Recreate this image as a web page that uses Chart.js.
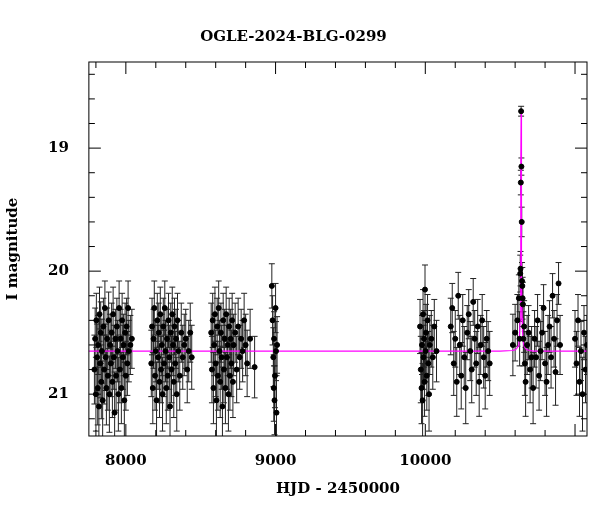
<!DOCTYPE html>
<html>
<head>
<meta charset="utf-8">
<script src="https://cdn.jsdelivr.net/npm/chart.js@4"></script>
<style>
  body { margin: 0; background: #fff; }
</style>
</head>
<body>
<canvas id="lc" width="600" height="512"></canvas>
<script>
// photometry: HJD-2450000, I mag, error
const obs_t = [
  7790,7795,7800,7803,7808,7812,7815,7820,7824,7828,7832,7836,7840,7845,7850,7855,7860,7865,7870,7875,7880,7885,7890,7895,7900,7905,7910,7915,7920,7925,7930,7935,7940,7945,7950,7955,7960,7965,7970,7975,7980,7985,7990,7995,8000,8005,8010,8015,8020,8030,8040,
  8170,8175,8180,8185,8190,8195,8200,8205,8210,8215,8220,8225,8230,8235,8240,8245,8250,8255,8260,8265,8270,8275,8280,8285,8290,8295,8300,8305,8310,8315,8320,8325,8330,8335,8340,8345,8350,8360,8370,8380,8390,8400,8410,8420,8430,8440,
  8570,8575,8580,8585,8590,8595,8600,8605,8610,8615,8620,8625,8630,8635,8640,8645,8650,8655,8660,8665,8670,8675,8680,8685,8690,8695,8700,8705,8710,8715,8720,8730,8740,8750,8760,8770,8780,8790,8800,8810,8830,8860,
  8975,8980,8985,8988,8990,8993,8996,9000,9003,9006,9010,
  9965,9970,9975,9978,9982,9985,9988,9992,9995,9998,10002,10005,10010,10015,10020,10025,10030,10040,10050,10060,10075,
  10170,10180,10190,10200,10210,10220,10230,10240,10250,10260,10270,10280,10290,10300,10310,10320,10330,10340,10350,10360,10370,10380,10390,10400,10410,10420,10430,
  10585,10600,10615,10625,10630,10634,10636,10638,10640,10642,10644,10646,10648,10650,10652,10655,10660,10665,10670,10680,10690,10700,10710,10720,10730,10740,10750,10760,10770,10780,10790,10800,10810,10820,10830,10840,10850,10860,10870,10880,10890,10900,
  11000,11010,11020,11030,11040,11050,11060,11070,11080
];
const obs_mag = [
  20.80,20.55,21.00,20.40,20.70,20.95,20.60,21.10,20.35,20.75,20.50,20.90,20.65,21.05,20.45,20.80,20.30,20.70,20.95,20.55,20.85,20.40,21.00,20.60,20.75,20.50,20.90,20.35,20.70,21.15,20.55,20.85,20.45,20.65,21.00,20.30,20.80,20.55,20.95,20.40,20.70,20.60,21.05,20.50,20.85,20.45,20.75,20.30,20.65,20.60,20.55,
  20.75,20.45,20.95,20.55,20.30,20.85,20.65,21.05,20.40,20.70,20.50,20.90,20.35,20.80,20.60,21.00,20.45,20.75,20.30,20.65,20.95,20.55,20.85,20.40,20.70,21.10,20.50,20.80,20.35,20.60,20.90,20.45,20.75,20.55,21.00,20.40,20.65,20.85,20.50,20.70,20.60,20.55,20.80,20.65,20.50,20.70,
  20.50,20.80,20.40,20.95,20.60,20.35,20.75,21.05,20.45,20.85,20.30,20.65,20.90,20.50,20.70,21.10,20.40,20.80,20.55,20.95,20.35,20.70,20.60,21.00,20.45,20.85,20.55,20.75,20.40,20.90,20.60,20.50,20.80,20.45,20.70,20.55,20.65,20.40,20.60,20.75,20.55,20.78,
  20.12,20.40,20.70,20.95,20.55,21.05,20.85,20.30,20.65,21.15,20.60,
  20.45,20.80,20.95,20.60,21.05,20.35,20.70,20.55,20.90,20.15,20.65,20.50,20.85,20.40,20.75,21.00,20.60,20.55,20.70,20.45,20.65,
  20.45,20.30,20.75,20.55,20.90,20.20,20.60,20.85,20.40,20.70,20.95,20.50,20.35,20.65,20.80,20.25,20.55,20.75,20.45,20.90,20.60,20.40,20.70,20.85,20.55,20.65,20.75,
  20.60,20.50,20.40,20.22,20.55,20.02,19.98,19.28,18.70,19.15,19.60,20.08,20.12,20.22,20.27,20.55,20.45,20.75,20.90,20.60,20.50,20.80,20.70,20.95,20.55,20.70,20.40,20.85,20.65,20.50,20.30,20.75,20.90,20.60,20.45,20.70,20.20,20.55,20.82,20.40,20.10,20.60,
  20.55,20.75,20.40,20.90,20.65,21.00,20.50,20.80,20.60
];
const obs_err = [
  0.28,0.25,0.30,0.22,0.27,0.30,0.24,0.32,0.22,0.28,0.25,0.30,0.26,0.32,0.23,0.28,0.22,0.27,0.30,0.25,0.28,0.23,0.31,0.25,0.27,0.24,0.29,0.22,0.26,0.33,0.24,0.28,0.23,0.25,0.30,0.22,0.27,0.24,0.29,0.22,0.26,0.25,0.31,0.24,0.28,0.23,0.26,0.22,0.25,0.24,0.24,
  0.27,0.23,0.29,0.24,0.22,0.28,0.25,0.31,0.22,0.26,0.24,0.29,0.22,0.27,0.25,0.30,0.23,0.27,0.22,0.25,0.29,0.24,0.28,0.22,0.26,0.32,0.24,0.27,0.22,0.25,0.29,0.23,0.26,0.24,0.30,0.22,0.25,0.28,0.24,0.26,0.25,0.24,0.27,0.25,0.24,0.26,
  0.24,0.27,0.22,0.29,0.25,0.22,0.27,0.31,0.23,0.28,0.22,0.25,0.29,0.24,0.26,0.32,0.22,0.27,0.24,0.29,0.22,0.26,0.25,0.30,0.23,0.28,0.24,0.27,0.22,0.29,0.25,0.24,0.27,0.23,0.26,0.24,0.25,0.22,0.25,0.27,0.24,0.25,
  0.18,0.20,0.24,0.27,0.22,0.28,0.26,0.20,0.24,0.30,0.23,
  0.22,0.27,0.29,0.24,0.30,0.20,0.26,0.23,0.28,0.20,0.25,0.23,0.28,0.21,0.26,0.30,0.24,0.23,0.26,0.22,0.25,
  0.23,0.20,0.26,0.23,0.28,0.19,0.24,0.27,0.21,0.25,0.29,0.22,0.20,0.24,0.27,0.19,0.23,0.26,0.22,0.28,0.24,0.21,0.25,0.27,0.23,0.24,0.26,
  0.25,0.23,0.21,0.19,0.22,0.15,0.14,0.10,0.04,0.07,0.12,0.15,0.15,0.17,0.18,0.22,0.21,0.26,0.28,0.24,0.22,0.27,0.25,0.29,0.23,0.25,0.21,0.28,0.24,0.22,0.19,0.26,0.28,0.24,0.21,0.25,0.18,0.23,0.27,0.21,0.17,0.24,
  0.23,0.26,0.21,0.28,0.24,0.30,0.22,0.27,0.24
];
// PSPL model curve
const model_t = [7750,10500,10580,10600,10610,10620,10625,10630,10633,10636,10638,10639,10640,10641,10642,10644,10647,10650,10655,10660,10670,10680,10700,10720,11100];
const model_mag = [20.65,20.65,20.645,20.64,20.63,20.61,20.58,20.50,20.40,20.05,19.55,19.15,18.72,19.15,19.55,20.05,20.38,20.50,20.58,20.61,20.63,20.64,20.645,20.65,20.65];

const obs = obs_t.map((t, i) => ({x: t, y: obs_mag[i], e: obs_err[i]}));
const model = model_t.map((t, i) => ({x: t, y: model_mag[i]}));

const errorBars = {
  id: 'errorBars',
  beforeDatasetsDraw(chart) {
    const ctx = chart.ctx, xs = chart.scales.x, ys = chart.scales.y;
    const area = chart.chartArea;
    ctx.save();
    ctx.beginPath();
    ctx.rect(area.left, area.top, area.right - area.left, area.bottom - area.top);
    ctx.clip();
    ctx.strokeStyle = '#222';
    ctx.lineWidth = 1;
    obs.forEach(p => {
      const x = xs.getPixelForValue(p.x);
      const y1 = ys.getPixelForValue(p.y - p.e), y2 = ys.getPixelForValue(p.y + p.e);
      ctx.beginPath();
      ctx.moveTo(x, y1); ctx.lineTo(x, y2);
      ctx.moveTo(x - 3, y1); ctx.lineTo(x + 3, y1);
      ctx.moveTo(x - 3, y2); ctx.lineTo(x + 3, y2);
      ctx.stroke();
    });
    ctx.restore();
  }
};

// inward ticks on all four sides
const frameTicks = {
  id: 'frameTicks',
  afterDraw(chart) {
    const ctx = chart.ctx, xs = chart.scales.x, ys = chart.scales.y, a = chart.chartArea;
    ctx.save();
    ctx.strokeStyle = '#000';
    ctx.lineWidth = 1;
    ctx.strokeRect(a.left, a.top, a.right - a.left, a.bottom - a.top);
    ctx.beginPath();
    for (let v = 7800; v <= 11000; v += 200) {
      const x = xs.getPixelForValue(v), L = v % 1000 === 0 ? 12 : 6;
      ctx.moveTo(x, a.bottom); ctx.lineTo(x, a.bottom - L);
      ctx.moveTo(x, a.top); ctx.lineTo(x, a.top + L);
    }
    for (let v = 18.4; v <= 21.3; v += 0.2) {
      const r = Math.round(v * 10) / 10;
      const y = ys.getPixelForValue(r), L = Number.isInteger(r) ? 12 : 6;
      ctx.moveTo(a.left, y); ctx.lineTo(a.left + L, y);
      ctx.moveTo(a.right, y); ctx.lineTo(a.right - L, y);
    }
    ctx.stroke();
    ctx.restore();
  }
};

Chart.defaults.font.family = '"DejaVu Serif", "Liberation Serif", serif';
Chart.defaults.color = '#000';

new Chart(document.getElementById('lc'), {
  type: 'scatter',
  data: {
    datasets: [
      {
        data: model, showLine: true, borderColor: '#ff00ff', borderWidth: 1.2,
        pointRadius: 0, tension: 0, order: 2
      },
      {
        data: obs, backgroundColor: '#000', borderColor: '#000',
        pointRadius: 2.5, order: 1
      }
    ]
  },
  options: {
    responsive: false,
    animation: false,
    layout: { padding: { left: 0, right: 13, top: 16, bottom: 10 } },
    plugins: {
      legend: { display: false },
      tooltip: { enabled: false },
      title: {
        display: true, text: 'OGLE-2024-BLG-0299',
        font: { size: 15, weight: 'bold' }, padding: { top: 12, bottom: 16 }
      }
    },
    scales: {
      x: {
        min: 7753, max: 11080,
        afterBuildTicks: s => { s.ticks = [8000, 9000, 10000].map(v => ({value: v})); },
        ticks: { font: { size: 15, weight: 'bold' }, padding: 8, callback: v => String(v) },
        grid: { display: false },
        border: { display: false },
        title: { display: true, text: 'HJD - 2450000', font: { size: 15, weight: 'bold' }, padding: { top: 2 } }
      },
      y: {
        reverse: true, min: 18.30, max: 21.34,
        afterBuildTicks: s => { s.ticks = [19, 20, 21].map(v => ({value: v})); },
        ticks: { font: { size: 15, weight: 'bold' }, padding: 12, callback: v => String(v) },
        grid: { display: false },
        border: { display: false },
        title: { display: true, text: 'I magnitude', font: { size: 15, weight: 'bold' }, padding: { bottom: 14 } }
      }
    }
  },
  plugins: [errorBars, frameTicks]
});
</script>
</body>
</html>
